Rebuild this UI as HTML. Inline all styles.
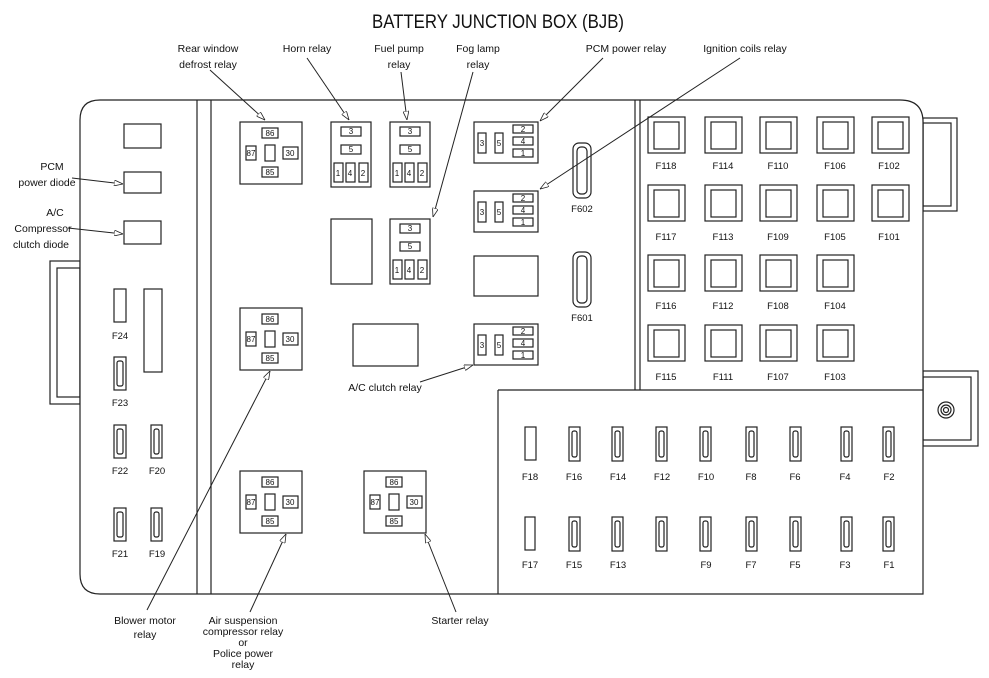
<!DOCTYPE html>
<html><head><meta charset="utf-8"><style>
html,body{margin:0;padding:0;background:#fff;}
svg{display:block;}
text{font-family:"Liberation Sans",Arial,sans-serif;fill:#111;}
.l{font-size:10.5px;text-anchor:middle;}
.p{font-size:8px;text-anchor:middle;}
.f{font-size:9.5px;text-anchor:middle;}
</style></head><body>
<svg width="989" height="678" viewBox="0 0 989 678" xmlns="http://www.w3.org/2000/svg">
<defs>
<marker id="a" markerWidth="9" markerHeight="6" refX="9" refY="3" orient="auto" markerUnits="userSpaceOnUse">
<path d="M0,0 L9,3 L0,6 Z" fill="#fff" stroke="#222" stroke-width="0.8"/></marker>
</defs>
<g fill="none" stroke="#222" stroke-width="1.2">
<!-- tabs -->
<rect x="50" y="261" width="30" height="143"/><rect x="57" y="268" width="23" height="129"/>
<rect x="923" y="118" width="34" height="93"/><rect x="923" y="123" width="28" height="83"/>
<rect x="923" y="371" width="55" height="75"/><rect x="923" y="377" width="48" height="63"/>
<circle cx="946" cy="410" r="8"/><circle cx="946" cy="410" r="5"/><circle cx="946" cy="410" r="2.5"/>
<!-- main body -->
<path d="M100,100 H900 Q923,100 923,122 V594 H100 Q80,594 80,574 V120 Q80,100 100,100 Z" fill="#fff"/>
<line x1="197" y1="100" x2="197" y2="594"/><line x1="211" y1="100" x2="211" y2="594"/>
<line x1="635" y1="100" x2="635" y2="390"/><line x1="640" y1="100" x2="640" y2="390"/>
<line x1="498" y1="390" x2="923" y2="390"/><line x1="498" y1="390" x2="498" y2="594"/>
<!-- left section -->
<rect x="124" y="124" width="37" height="24"/><rect x="124" y="172" width="37" height="21"/><rect x="124" y="221" width="37" height="23"/>
<rect x="114" y="289" width="12" height="33"/><rect x="144" y="289" width="18" height="83"/>
<rect x="114" y="357" width="12" height="33"/><rect x="117" y="361" width="6" height="25" rx="2"/>
<rect x="114" y="425" width="12" height="33"/><rect x="117" y="429" width="6" height="25" rx="2"/>
<rect x="151" y="425" width="11" height="33"/><rect x="154" y="429" width="5" height="25" rx="2"/>
<rect x="114" y="508" width="12" height="33"/><rect x="117" y="512" width="6" height="25" rx="2"/>
<rect x="151" y="508" width="11" height="33"/><rect x="154" y="512" width="5" height="25" rx="2"/>
<!-- 4-pin relays -->
<g id="r4">
<rect x="240" y="122" width="62" height="62"/>
<rect x="262" y="128" width="16" height="10"/><rect x="246" y="146" width="10" height="14"/>
<rect x="265" y="145" width="10" height="16"/><rect x="283" y="147" width="15" height="12"/>
<rect x="262" y="167" width="16" height="10"/>
</g>
<use href="#r4" y="186"/><use href="#r4" y="349"/><use href="#r4" x="124" y="349"/>
<!-- 5-pin vertical relays -->
<g id="r5">
<rect x="331" y="122" width="40" height="65"/>
<rect x="341" y="127" width="20" height="9"/><rect x="341" y="145" width="20" height="9"/>
<rect x="334" y="163" width="9" height="19"/><rect x="346" y="163" width="9" height="19"/><rect x="359" y="163" width="9" height="19"/>
</g>
<use href="#r5" x="59"/><use href="#r5" x="59" y="97"/>
<rect x="331" y="219" width="41" height="65"/>
<!-- horizontal relays -->
<g id="rh">
<rect x="474" y="122" width="64" height="41"/>
<rect x="478" y="133" width="8" height="20"/><rect x="495" y="133" width="8" height="20"/>
<rect x="513" y="125" width="20" height="8"/><rect x="513" y="137" width="20" height="8"/><rect x="513" y="149" width="20" height="8"/>
</g>
<use href="#rh" y="69"/><use href="#rh" y="202"/>
<rect x="474" y="256" width="64" height="40"/>
<rect x="353" y="324" width="65" height="42"/>
<rect x="573" y="143" width="18" height="55" rx="6"/><rect x="577" y="147" width="10" height="47" rx="4"/>
<rect x="573" y="252" width="18" height="55" rx="6"/><rect x="577" y="256" width="10" height="47" rx="4"/>
<!-- large fuses -->
<g id="bf"><rect x="648" y="117" width="37" height="36"/><rect x="654" y="122" width="25" height="27"/></g>
<use href="#bf" x="57"/><use href="#bf" x="112"/><use href="#bf" x="169"/><use href="#bf" x="224"/>
<use href="#bf" y="68"/><use href="#bf" x="57" y="68"/><use href="#bf" x="112" y="68"/><use href="#bf" x="169" y="68"/><use href="#bf" x="224" y="68"/>
<use href="#bf" y="138"/><use href="#bf" x="57" y="138"/><use href="#bf" x="112" y="138"/><use href="#bf" x="169" y="138"/>
<use href="#bf" y="208"/><use href="#bf" x="57" y="208"/><use href="#bf" x="112" y="208"/><use href="#bf" x="169" y="208"/>
<!-- small fuses -->
<rect x="525" y="427" width="11" height="33"/><rect x="525" y="517" width="10" height="33"/>
<g id="sf"><rect x="569" y="427" width="11" height="34"/><rect x="572" y="431" width="5" height="26" rx="2"/></g>
<use href="#sf" x="43"/><use href="#sf" x="87"/><use href="#sf" x="131"/><use href="#sf" x="177"/><use href="#sf" x="221"/><use href="#sf" x="272"/><use href="#sf" x="314"/>
<use href="#sf" y="90"/><use href="#sf" x="43" y="90"/><use href="#sf" x="87" y="90"/><use href="#sf" x="131" y="90"/><use href="#sf" x="177" y="90"/><use href="#sf" x="221" y="90"/><use href="#sf" x="272" y="90"/><use href="#sf" x="314" y="90"/>
</g>
<!-- pin labels -->
<g class="p">
<text x="270" y="136">86</text><text x="251" y="156">87</text><text x="290" y="156">30</text><text x="270" y="175">85</text>
<text x="270" y="322">86</text><text x="251" y="342">87</text><text x="290" y="342">30</text><text x="270" y="361">85</text>
<text x="270" y="485">86</text><text x="251" y="505">87</text><text x="290" y="505">30</text><text x="270" y="524">85</text>
<text x="394" y="485">86</text><text x="375" y="505">87</text><text x="414" y="505">30</text><text x="394" y="524">85</text>
<text x="351" y="134">3</text><text x="351" y="152">5</text><text x="338" y="176">1</text><text x="350" y="176">4</text><text x="363" y="176">2</text>
<text x="410" y="134">3</text><text x="410" y="152">5</text><text x="397" y="176">1</text><text x="409" y="176">4</text><text x="422" y="176">2</text>
<text x="410" y="231">3</text><text x="410" y="249">5</text><text x="397" y="273">1</text><text x="409" y="273">4</text><text x="422" y="273">2</text>
<text x="482" y="146">3</text><text x="499" y="146">5</text><text x="523" y="132">2</text><text x="523" y="144">4</text><text x="523" y="156">1</text>
<text x="482" y="215">3</text><text x="499" y="215">5</text><text x="523" y="201">2</text><text x="523" y="213">4</text><text x="523" y="225">1</text>
<text x="482" y="348">3</text><text x="499" y="348">5</text><text x="523" y="334">2</text><text x="523" y="346">4</text><text x="523" y="358">1</text>
</g>
<!-- fuse labels -->
<g class="f">
<text x="120" y="339">F24</text><text x="120" y="406">F23</text><text x="120" y="474">F22</text><text x="157" y="474">F20</text>
<text x="120" y="557">F21</text><text x="157" y="557">F19</text>
<text x="582" y="212">F602</text><text x="582" y="321">F601</text>
<text x="666" y="169">F118</text><text x="723" y="169">F114</text><text x="778" y="169">F110</text><text x="835" y="169">F106</text><text x="889" y="169">F102</text>
<text x="666" y="240">F117</text><text x="723" y="240">F113</text><text x="778" y="240">F109</text><text x="835" y="240">F105</text><text x="889" y="240">F101</text>
<text x="666" y="309">F116</text><text x="723" y="309">F112</text><text x="778" y="309">F108</text><text x="835" y="309">F104</text>
<text x="666" y="380">F115</text><text x="723" y="380">F111</text><text x="778" y="380">F107</text><text x="835" y="380">F103</text>
<text x="530" y="480">F18</text><text x="574" y="480">F16</text><text x="618" y="480">F14</text><text x="662" y="480">F12</text><text x="706" y="480">F10</text><text x="751" y="480">F8</text><text x="795" y="480">F6</text><text x="845" y="480">F4</text><text x="889" y="480">F2</text>
<text x="530" y="568">F17</text><text x="574" y="568">F15</text><text x="618" y="568">F13</text><text x="706" y="568">F9</text><text x="751" y="568">F7</text><text x="795" y="568">F5</text><text x="845" y="568">F3</text><text x="889" y="568">F1</text>
</g>
<!-- leader lines -->
<g stroke="#222" stroke-width="1" fill="none" marker-end="url(#a)">
<line x1="210" y1="70" x2="265" y2="120"/>
<line x1="307" y1="58" x2="349" y2="120"/>
<line x1="401" y1="72" x2="407" y2="120"/>
<line x1="473" y1="72" x2="433" y2="217"/>
<line x1="603" y1="58" x2="540" y2="121"/>
<line x1="740" y1="58" x2="540" y2="189"/>
<line x1="72" y1="178" x2="123" y2="184"/>
<line x1="68" y1="228" x2="123" y2="234"/>
<line x1="420" y1="382" x2="473" y2="365"/>
<line x1="147" y1="610" x2="270" y2="371"/>
<line x1="250" y1="612" x2="286" y2="534"/>
<line x1="456" y1="612" x2="425" y2="534"/>
</g>
<text x="498" y="28" style="font-size:19px;text-anchor:middle" textLength="252" lengthAdjust="spacingAndGlyphs">BATTERY JUNCTION BOX (BJB)</text>
<g class="l">
<text x="208" y="52">Rear window</text><text x="208" y="68">defrost relay</text>
<text x="307" y="52">Horn relay</text>
<text x="399" y="52">Fuel pump</text><text x="399" y="68">relay</text>
<text x="478" y="52">Fog lamp</text><text x="478" y="68">relay</text>
<text x="626" y="52">PCM power relay</text>
<text x="745" y="52">Ignition coils relay</text>
<text x="52" y="170">PCM</text><text x="47" y="186">power diode</text>
<text x="55" y="216">A/C</text><text x="43" y="232">Compressor</text><text x="41" y="248">clutch diode</text>
<text x="385" y="391">A/C clutch relay</text>
<text x="145" y="624">Blower motor</text><text x="145" y="638">relay</text>
<text x="243" y="624">Air suspension</text><text x="243" y="635">compressor relay</text><text x="243" y="646">or</text><text x="243" y="657">Police power</text><text x="243" y="668">relay</text>
<text x="460" y="624">Starter relay</text>
</g>
</svg>
</body></html>
